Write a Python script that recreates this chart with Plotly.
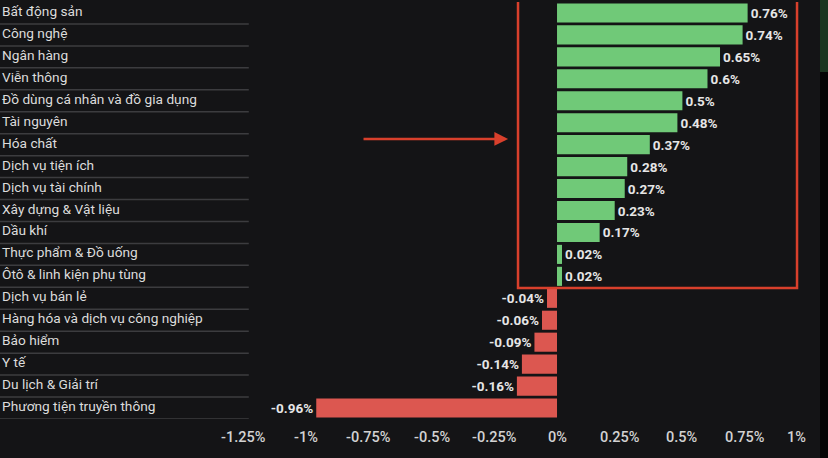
import plotly.graph_objects as go

categories = [
    "Bất động sản", "Công nghệ", "Ngân hàng", "Viễn thông",
    "Đồ dùng cá nhân và đồ gia dụng", "Tài nguyên", "Hóa chất",
    "Dịch vụ tiện ích", "Dịch vụ tài chính", "Xây dựng & Vật liệu",
    "Dầu khí", "Thực phẩm & Đồ uống", "Ôtô & linh kiện phụ tùng",
    "Dịch vụ bán lẻ", "Hàng hóa và dịch vụ công nghiệp", "Bảo hiểm",
    "Y tế", "Du lịch & Giải trí", "Phương tiện truyền thông",
]
values = [0.76, 0.74, 0.65, 0.6, 0.5, 0.48, 0.37, 0.28, 0.27, 0.23,
          0.17, 0.02, 0.02, -0.04, -0.06, -0.09, -0.14, -0.16, -0.96]
value_labels = ["0.76%", "0.74%", "0.65%", "0.6%", "0.5%", "0.48%", "0.37%",
                "0.28%", "0.27%", "0.23%", "0.17%", "0.02%", "0.02%",
                "-0.04%", "-0.06%", "-0.09%", "-0.14%", "-0.16%", "-0.96%"]
tick_vals = [-1.25, -1.0, -0.75, -0.5, -0.25, 0, 0.25, 0.5, 0.75, 1.0]
tick_text = ["-1.25%", "-1%", "-0.75%", "-0.5%", "-0.25%", "0%",
             "0.25%", "0.5%", "0.75%", "1%"]

BG = "#141416"
GREEN = "#70c978"
RED = "#dc5750"
BOX = "#d9402c"
X_MIN, X_MAX = -2.221, 1.0805
LABEL_END = -1.229
N = len(categories)

colors = [GREEN if v >= 0 else RED for v in values]

fig = go.Figure()
fig.add_trace(go.Bar(
    y=categories, x=values, orientation="h",
    marker=dict(color=colors, line=dict(width=0)),
    text=value_labels, textposition="outside", cliponaxis=False,
    textfont=dict(family="Roboto", size=13.5, color="#e6e6e6", weight="bold"),
    hoverinfo="skip",
))

annotations = []
for c in categories:
    annotations.append(dict(
        x=X_MIN, y=c, xref="x", yref="y", text=c, showarrow=False,
        xanchor="left", yanchor="middle", yshift=2,
        font=dict(family="Roboto", size=13.7, color="#dcdcdc"),
    ))
for i, (tv, tt) in enumerate(zip(tick_vals, tick_text)):
    last = i == len(tick_vals) - 1
    annotations.append(dict(
        x=tv, y=0, xref="x", yref="paper", text=tt, showarrow=False,
        xanchor="right" if last else "center", yanchor="middle", yshift=-18,
        font=dict(family="Roboto", size=14.5, color="#d2d2d2", weight=500),
    ))
# red arrow
annotations.append(dict(
    x=-0.195, y=5.74, xref="x", yref="y", ax=-0.7775, ay=5.74,
    axref="x", ayref="y", text="", showarrow=True,
    arrowhead=2, arrowsize=1.1, arrowwidth=2.5, arrowcolor=BOX,
))

shapes = []
for i in range(N):
    shapes.append(dict(
        type="line", xref="x", yref="y", x0=X_MIN, x1=LABEL_END,
        y0=i + 0.5, y1=i + 0.5, line=dict(color="#3c3c3f", width=1.5),
    ))
shapes.append(dict(
    type="rect", xref="x", yref="y", x0=-0.1555, x1=0.957,
    y0=-0.75, y1=12.53, line=dict(color=BOX, width=2.5),
    fillcolor="rgba(0,0,0,0)",
))
shapes.append(dict(
    type="rect", xref="paper", yref="paper", x0=820 / 828, x1=1.0,
    y0=-0.2, y1=1.1, fillcolor="#050505", line=dict(width=0), layer="above",
))
shapes.append(dict(
    type="rect", xref="paper", yref="paper", x0=820 / 828, x1=1.0,
    y0=(419 - 72) / 417, y1=1.1, fillcolor="#1b3520", line=dict(width=0),
    layer="above",
))

fig.update_layout(
    width=828, height=458,
    margin=dict(l=0, r=0, t=2, b=39),
    paper_bgcolor=BG, plot_bgcolor=BG,
    showlegend=False, bargap=0.13,
    xaxis=dict(range=[X_MIN, X_MAX], showgrid=False, zeroline=False,
               showticklabels=False, fixedrange=True),
    yaxis=dict(range=[N - 0.5, -0.5], autorange=False, showgrid=False,
               zeroline=False, showticklabels=False, fixedrange=True),
    annotations=annotations, shapes=shapes,
)

fig.write_html(
    "out.html",
    config={"displayModeBar": False},
    post_script="document.body.style.margin='0';document.body.style.overflow='hidden';document.body.style.background='#141416';",
)
